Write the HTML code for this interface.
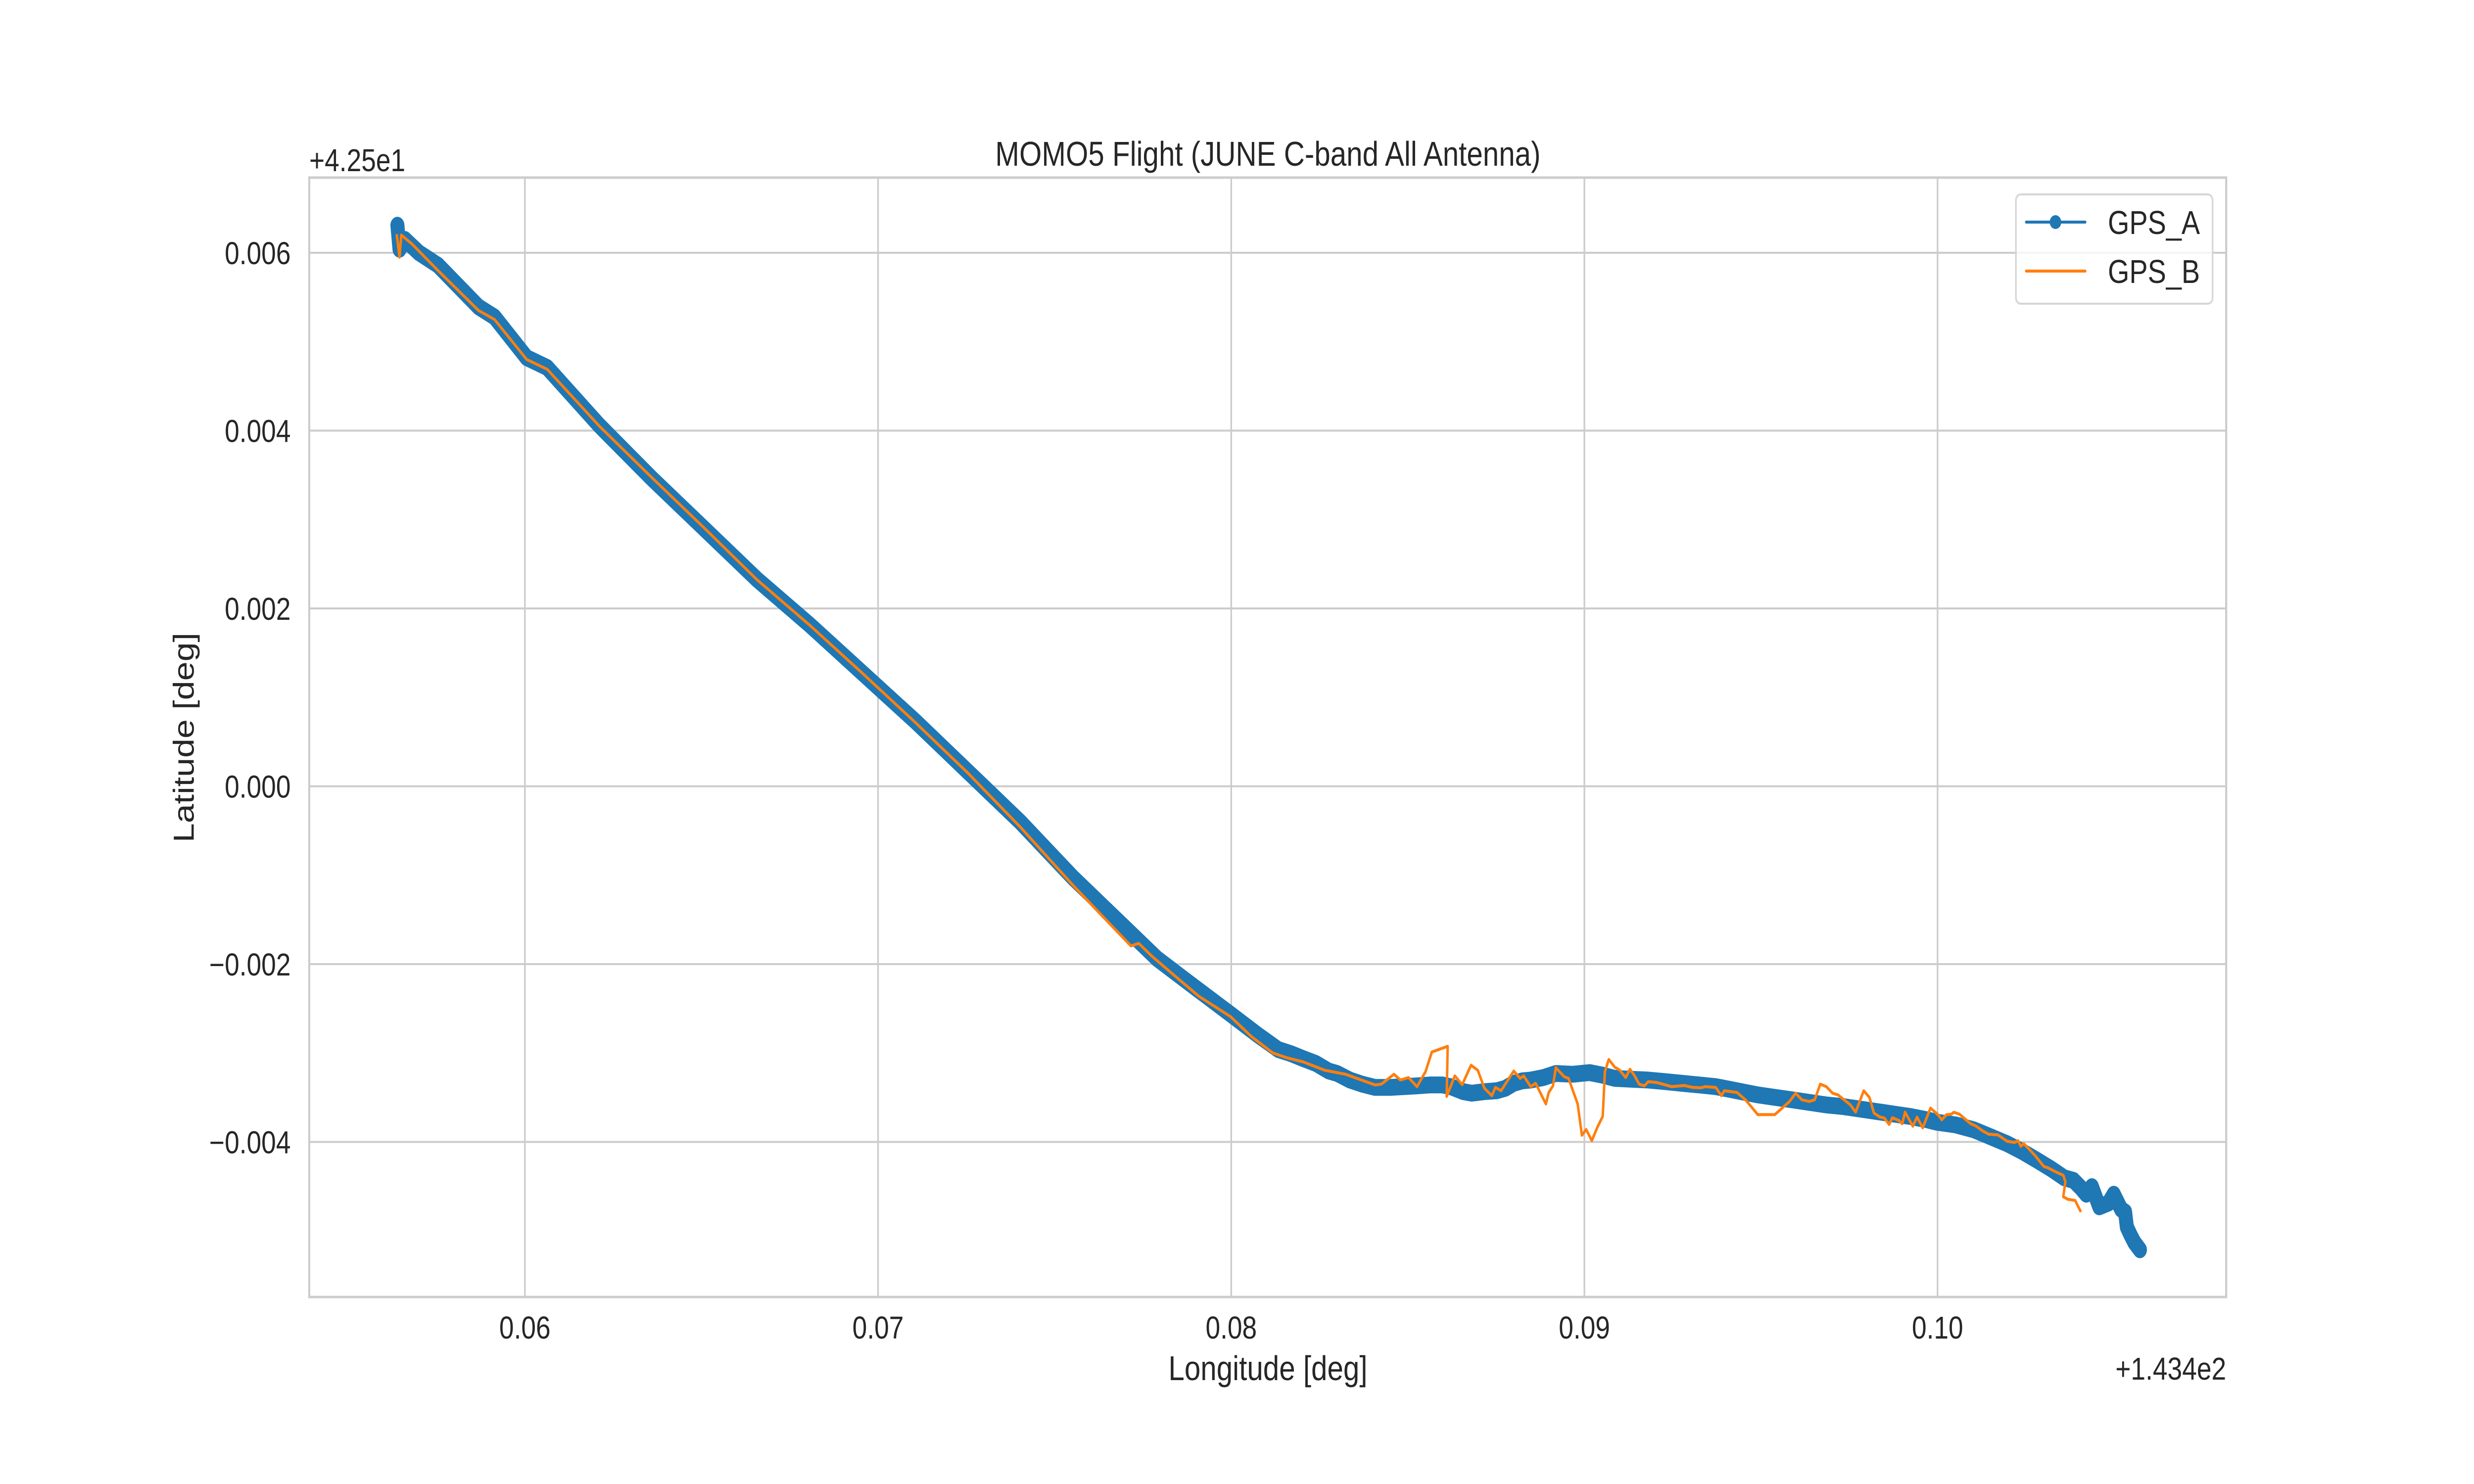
<!DOCTYPE html>
<html><head><meta charset="utf-8">
<style>
html,body{margin:0;padding:0;background:#fff;overflow:hidden;width:100vw;height:100vh;}
svg{display:block;width:100vw;height:100vh;}
text{font-family:"Liberation Sans",Arial,sans-serif;fill:#262626;}
</style></head>
<body>
<svg id="chart" xmlns="http://www.w3.org/2000/svg" viewBox="0 0 6000 3000" preserveAspectRatio="none">
  <rect x="0" y="0" width="6000" height="3000" fill="#ffffff"/>
  <g id="grid"></g>
  <g id="series"></g>
  <rect x="750" y="359" width="4649" height="2263" fill="none" stroke="#cccccc" stroke-width="5"/>
  <g id="ticks"></g>
  <text x="3075" y="335" font-size="70" text-anchor="middle">MOMO5 Flight (JUNE C-band All Antenna)</text>
  <text x="750" y="346" font-size="64">+4.25e1</text>
  <text x="5399" y="2789" font-size="64" text-anchor="end">+1.434e2</text>
  <text x="3075" y="2790" font-size="70" text-anchor="middle">Longitude [deg]</text>
  <text x="0" y="0" font-size="70" text-anchor="middle" transform="translate(470,1491) rotate(-90)">Latitude [deg]</text>
  <g>
    <rect x="4889" y="393" width="477" height="221" rx="12" fill="#ffffff" fill-opacity="0.8" stroke="#d6d6d6" stroke-width="4"/>
    <g>
      <line x1="4914" y1="449" x2="5057" y2="449" stroke="#1f77b4" stroke-width="6" stroke-linecap="round"/>
      <circle cx="4985" cy="449" r="14" fill="#1f77b4"/>
      <text x="5112" y="473" font-size="67">GPS_A</text>
    </g>
    <g>
      <line x1="4914" y1="548" x2="5057" y2="548" stroke="#ff7f0e" stroke-width="6" stroke-linecap="round"/>
      <text x="5112" y="572" font-size="67">GPS_B</text>
    </g>
  </g>
</svg>
<script>
const xTicks = [0.06, 0.07, 0.08, 0.09, 0.10];
const xTickLabels = ["0.06", "0.07", "0.08", "0.09", "0.10"];
const yTicks = [0.006, 0.004, 0.002, 0.000, -0.002, -0.004];
const yTickLabels = ["0.006", "0.004", "0.002", "0.000", "\u22120.002", "\u22120.004"];

const lonA = [0.05639,0.05645,0.05660,0.05700,0.05754,0.05869,0.05914,0.06005,0.06063,0.06211,0.06360,0.06509,0.06658,0.06807,0.06956,0.07105,0.07254,0.07403,0.07552,0.07701,0.07790,0.07865,0.07998,0.08073,
0.08133,0.08169,0.08204,0.08240,0.08276,0.08300,0.08336,0.08371,0.08407,0.08449,0.08490,0.08526,0.08562,0.08598,0.08621,0.08657,0.08681,0.08717,0.08752,0.08776,0.08800,0.08824,0.08848,0.08884,0.08919,0.08967,0.09015,0.09050,0.09086,0.09134,0.09181,0.09229,0.09277,0.09325,0.09372,0.09408,0.09444,0.09491,0.09539,0.09587,0.09634,0.09682,0.09730,0.09777,0.09825,0.09872,0.09920,0.09968,
0.09999,0.10051,0.10103,0.10155,0.10197,0.10239,0.10281,0.10322,0.10359,0.10385,0.10406,0.10421,0.10437,0.10458,0.10484,0.10499,0.10520,0.10531,0.10536,0.10546,0.10557,0.10573];
const latA = [0.00631,0.00604,0.00615,0.00600,0.00586,0.00539,0.005278,0.00482,0.00471,0.004057,0.00346,0.002892,0.002324,0.001813,0.001273,0.000733,0.000165,-0.000403,-0.001028,-0.001597,-0.001938,-0.002165,-0.002563,-0.002790,
-0.002961,-0.003007,-0.003063,-0.003118,-0.003202,-0.003230,-0.003304,-0.003350,-0.003387,-0.003387,-0.003378,-0.003369,-0.003359,-0.003359,-0.003378,-0.003434,-0.003452,-0.003434,-0.003424,-0.003397,-0.003341,-0.003313,-0.003304,-0.003276,-0.003230,-0.003239,-0.003220,-0.003248,-0.003285,-0.003295,-0.003304,-0.003322,-0.003341,-0.003359,-0.003378,-0.003406,-0.003434,-0.003471,-0.003499,-0.003526,-0.003554,-0.003582,-0.003601,-0.003628,-0.003656,-0.003684,-0.003712,-0.003749,
-0.003779,-0.003808,-0.003864,-0.003950,-0.004020,-0.004106,-0.004205,-0.004304,-0.004404,-0.004432,-0.004517,-0.004588,-0.004503,-0.004730,-0.004688,-0.004588,-0.004758,-0.004787,-0.004957,-0.005042,-0.005128,-0.005213];

const lonB = [0.05637,0.05645,0.05650,0.05680,0.05754,0.05869,0.05914,0.06005,0.06063,0.06211,0.06360,0.06509,0.06658,0.06807,0.06956,0.07105,0.07254,0.07403,0.07552,0.07716,0.07738,0.07775,0.07850,0.07909,0.07998,0.08058,0.08118,
0.08157,0.08204,0.08264,0.08324,0.08407,0.08425,0.08461,0.08479,0.08502,0.08526,0.08550,0.08568,0.08613,0.08610,0.08633,0.08654,0.08679,0.08698,0.08717,0.08738,0.08748,0.08764,0.08800,0.08818,0.08828,0.08848,0.08862,0.08891,0.08899,0.08911,0.08919,0.08943,0.08955,0.08981,0.08993,0.09005,0.09021,0.09036,0.09052,0.09058,0.09069,0.09086,0.09100,0.09117,0.09129,0.09141,0.09155,0.09170,0.09181,0.09205,0.09247,0.09283,0.09307,0.09330,0.09342,0.09372,0.09388,0.09396,0.09432,0.09456,0.09491,0.09539,0.09581,0.09598,0.09616,0.09637,0.09652,0.09668,0.09685,0.09703,0.09718,0.09753,0.09768,0.09791,0.09807,0.09820,0.09837,0.09849,0.09863,0.09872,0.09890,0.09900,0.09908,0.09930,0.09942,0.09958,0.09980,0.10001,
0.10012,0.10025,0.10039,0.10046,0.10062,0.10093,0.10109,0.10129,0.10145,0.10171,0.10197,0.10218,0.10228,0.10236,0.10244,0.10255,0.10275,0.10301,0.10312,0.10333,0.10356,0.10362,0.10356,0.10369,0.10390,0.10395,0.10406];
const latB = [0.00621,0.00595,0.00620,0.00610,0.00580,0.00535,0.005250,0.00480,0.00469,0.004050,0.00347,0.002900,0.002320,0.001810,0.001270,0.000720,0.000150,-0.000460,-0.001114,-0.001796,-0.001767,-0.001910,-0.002165,-0.002364,-0.002590,-0.002818,-0.003000,
-0.003053,-0.003100,-0.003193,-0.003239,-0.003359,-0.003350,-0.003239,-0.003304,-0.003276,-0.003378,-0.003211,-0.002989,-0.002924,-0.003489,-0.003257,-0.003356,-0.003137,-0.003193,-0.003397,-0.003480,-0.003387,-0.003424,-0.003202,-0.003285,-0.003257,-0.003378,-0.003341,-0.003573,-0.003443,-0.003369,-0.003165,-0.003267,-0.003285,-0.003573,-0.003925,-0.003860,-0.003986,-0.003842,-0.003712,-0.003211,-0.003072,-0.003159,-0.003193,-0.003276,-0.003183,-0.003248,-0.003350,-0.003369,-0.003322,-0.003332,-0.003378,-0.003365,-0.003387,-0.003391,-0.003378,-0.003387,-0.003480,-0.003424,-0.003443,-0.003526,-0.003693,-0.003693,-0.003545,-0.003452,-0.003526,-0.003545,-0.003526,-0.003350,-0.003378,-0.003452,-0.003471,-0.003582,-0.003665,-0.003424,-0.003498,-0.003675,-0.003721,-0.003730,-0.003804,-0.003727,-0.003758,-0.003795,-0.003665,-0.003823,-0.003721,-0.003842,-0.003619,-0.003693,
-0.003751,-0.003694,-0.003688,-0.003666,-0.003688,-0.003793,-0.003822,-0.003879,-0.003913,-0.003921,-0.003992,-0.004006,-0.003986,-0.004049,-0.004020,-0.004063,-0.004148,-0.004276,-0.004290,-0.004333,-0.004375,-0.004446,-0.004617,-0.004645,-0.004659,-0.004702,-0.004787];

const X0 = 1273, XPER = 85650;
const Y0 = 511, YPER = 179750;
function xs(v){ return X0 + (v - 0.06) * XPER; }
function ys(v){ return Y0 + (0.006 - v) * YPER; }

const NS = "http://www.w3.org/2000/svg";
const grid = document.getElementById('grid');
const ticks = document.getElementById('ticks');
const series = document.getElementById('series');

xTicks.forEach((t, i) => {
  const l = document.createElementNS(NS, 'line');
  l.setAttribute('x1', xs(t)); l.setAttribute('x2', xs(t));
  l.setAttribute('y1', 359); l.setAttribute('y2', 2622);
  l.setAttribute('stroke', '#cccccc'); l.setAttribute('stroke-width', 4);
  
  
  grid.appendChild(l);
  const tx = document.createElementNS(NS, 'text');
  tx.setAttribute('x', xs(t)); tx.setAttribute('y', 2706);
  tx.setAttribute('font-size', 64); tx.setAttribute('text-anchor', 'middle');
  tx.textContent = xTickLabels[i];
  
  
  ticks.appendChild(tx);
});
yTicks.forEach((t, i) => {
  const l = document.createElementNS(NS, 'line');
  l.setAttribute('x1', 750); l.setAttribute('x2', 5399);
  l.setAttribute('y1', ys(t)); l.setAttribute('y2', ys(t));
  l.setAttribute('stroke', '#cccccc'); l.setAttribute('stroke-width', 4);
  
  
  grid.appendChild(l);
  const tx = document.createElementNS(NS, 'text');
  tx.setAttribute('x', 705); tx.setAttribute('y', ys(t) + 23);
  tx.setAttribute('font-size', 64); tx.setAttribute('text-anchor', 'end');
  tx.textContent = yTickLabels[i];
  
  
  ticks.appendChild(tx);
});

function pts(lon, lat){ return lon.map((v, i) => xs(v).toFixed(1) + ',' + ys(lat[i]).toFixed(1)).join(' '); }

const bandA = document.createElementNS(NS, 'polyline');
bandA.setAttribute('points', pts(lonA, latA));
bandA.setAttribute('fill', 'none'); bandA.setAttribute('stroke', '#1f77b4');
bandA.setAttribute('stroke-width', 34); bandA.setAttribute('stroke-linejoin', 'round'); bandA.setAttribute('stroke-linecap', 'round');


series.appendChild(bandA);

lonA.forEach((v, i) => {
  const c = document.createElementNS(NS, 'circle');
  c.setAttribute('cx', xs(v)); c.setAttribute('cy', ys(latA[i])); c.setAttribute('r', 15);
  c.setAttribute('fill', '#1f77b4');
  
  
  series.appendChild(c);
});

const lineB = document.createElementNS(NS, 'polyline');
lineB.setAttribute('points', pts(lonB, latB));
lineB.setAttribute('fill', 'none'); lineB.setAttribute('stroke', '#ff7f0e');
lineB.setAttribute('stroke-width', 6); lineB.setAttribute('stroke-linejoin', 'round');


series.appendChild(lineB);
</script>
</body></html>
